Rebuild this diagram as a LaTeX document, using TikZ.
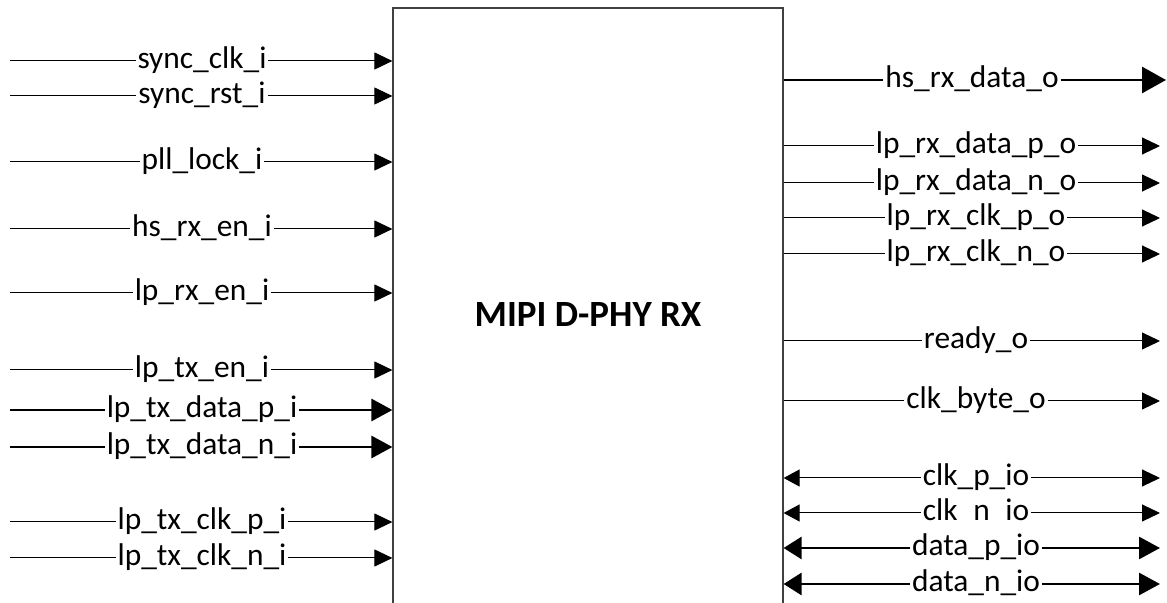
\documentclass[tikz,border=0pt]{standalone}
\usepackage{fontspec}
\setmainfont{Carlito}
\usepackage{tikz}
\usetikzlibrary{arrows.meta,positioning}

\tikzset{
  blk/.style={draw=black!75, line width=0.6pt, minimum width=195pt, minimum height=307pt,
    inner sep=0pt, font=\fontsize{18.5}{22}\selectfont\bfseries},
  lbl/.style={inner sep=0.8pt, text height=0.72em, text depth=0pt, font=\fontsize{15.7}{18}\selectfont},
  sig/.style={line width=0.5pt, -{Triangle[length=9pt,width=8.5pt]}},
  bus/.style={line width=1.4pt, -{Triangle[length=10.5pt,width=11pt]}},
  rsig/.style={line width=0.5pt, {Triangle[length=8pt,width=8.5pt]}-},
  rbus/.style={line width=1.4pt, {Triangle[length=9pt,width=11pt]}-}
}

\begin{document}
\begin{tikzpicture}[x=0.5pt,y=-0.5pt]
  \useasboundingbox (0,0) rectangle (1167,603);
  \clip (0,0) rectangle (1167,603);

  % Bloc principal
  \node[blk] (rx) at (588,315) {MIPI D-PHY RX};

  % Entrees
  \coordinate (sclk0) at (10,61);
  \node[lbl] (sclk) at (202,61) {sync\_clk\_i};
  \draw[sig] (sclk0) -- (sclk) -- (sclk -| rx.west);
  \coordinate (srst0) at (10,96);
  \node[lbl] (srst) at (202,96) {sync\_rst\_i};
  \draw[sig] (srst0) -- (srst) -- (srst -| rx.west);
  \coordinate (pll0) at (10,162);
  \node[lbl] (pll) at (202,162) {pll\_lock\_i};
  \draw[sig] (pll0) -- (pll) -- (pll -| rx.west);
  \coordinate (hsen0) at (10,229);
  \node[lbl] (hsen) at (202,229) {hs\_rx\_en\_i};
  \draw[sig] (hsen0) -- (hsen) -- (hsen -| rx.west);
  \coordinate (lpen0) at (10,293);
  \node[lbl] (lpen) at (202,293) {lp\_rx\_en\_i};
  \draw[sig] (lpen0) -- (lpen) -- (lpen -| rx.west);
  \coordinate (txen0) at (10,370);
  \node[lbl] (txen) at (202,370) {lp\_tx\_en\_i};
  \draw[sig] (txen0) -- (txen) -- (txen -| rx.west);
  \coordinate (txdp0) at (10,410);
  \node[lbl] (txdp) at (202,410) {lp\_tx\_data\_p\_i};
  \draw[bus] (txdp0) -- (txdp) -- (txdp -| rx.west);
  \coordinate (txdn0) at (10,447);
  \node[lbl] (txdn) at (202,447) {lp\_tx\_data\_n\_i};
  \draw[bus] (txdn0) -- (txdn) -- (txdn -| rx.west);
  \coordinate (txcp0) at (10,522);
  \node[lbl] (txcp) at (202,522) {lp\_tx\_clk\_p\_i};
  \draw[sig] (txcp0) -- (txcp) -- (txcp -| rx.west);
  \coordinate (txcn0) at (10,558);
  \node[lbl] (txcn) at (202,558) {lp\_tx\_clk\_n\_i};
  \draw[sig] (txcn0) -- (txcn) -- (txcn -| rx.west);

  % Sorties
  \coordinate (hsd1) at (1166,80);
  \node[lbl] (hsd) at (972,80) {hs\_rx\_data\_o};
  \draw[bus, -{Triangle[length=12pt,width=13pt]}] (hsd -| rx.east) -- (hsd) -- (hsd1);
  \coordinate (rxdp1) at (1160,146);
  \node[lbl] (rxdp) at (976,146) {lp\_rx\_data\_p\_o};
  \draw[sig] (rxdp -| rx.east) -- (rxdp) -- (rxdp1);
  \coordinate (rxdn1) at (1160,183);
  \node[lbl] (rxdn) at (976,183) {lp\_rx\_data\_n\_o};
  \draw[sig] (rxdn -| rx.east) -- (rxdn) -- (rxdn1);
  \coordinate (rxcp1) at (1160,218);
  \node[lbl] (rxcp) at (976,218) {lp\_rx\_clk\_p\_o};
  \draw[sig] (rxcp -| rx.east) -- (rxcp) -- (rxcp1);
  \coordinate (rxcn1) at (1160,254);
  \node[lbl] (rxcn) at (976,254) {lp\_rx\_clk\_n\_o};
  \draw[sig] (rxcn -| rx.east) -- (rxcn) -- (rxcn1);
  \coordinate (rdy1) at (1160,341);
  \node[lbl] (rdy) at (976,341) {ready\_o};
  \draw[sig] (rdy -| rx.east) -- (rdy) -- (rdy1);
  \coordinate (cbyte1) at (1160,401);
  \node[lbl] (cbyte) at (976,401) {clk\_byte\_o};
  \draw[sig] (cbyte -| rx.east) -- (cbyte) -- (cbyte1);

  % Bidirectionnels
  \coordinate (clkp1) at (1160,478);
  \node[lbl] (clkp) at (976,478) {clk\_p\_io};
  \draw[rsig] (clkp -| rx.east) -- (clkp);
  \draw[sig] (clkp) -- (clkp1);
  \coordinate (clkn1) at (1160,513);
  \node[lbl] (clkn) at (976,513) {clk\phantom{\_}n\phantom{\_}io};
  \draw[rsig] (clkn -| rx.east) -- (clkn);
  \draw[sig] (clkn) -- (clkn1);
  \coordinate (datp1) at (1160,548);
  \node[lbl] (datp) at (976,548) {data\_p\_io};
  \draw[rbus] (datp -| rx.east) -- (datp);
  \draw[bus] (datp) -- (datp1);
  \coordinate (datn1) at (1160,584);
  \node[lbl] (datn) at (976,584) {data\_n\_io};
  \draw[rbus] (datn -| rx.east) -- (datn);
  \draw[bus] (datn) -- (datn1);
\end{tikzpicture}
\end{document}
